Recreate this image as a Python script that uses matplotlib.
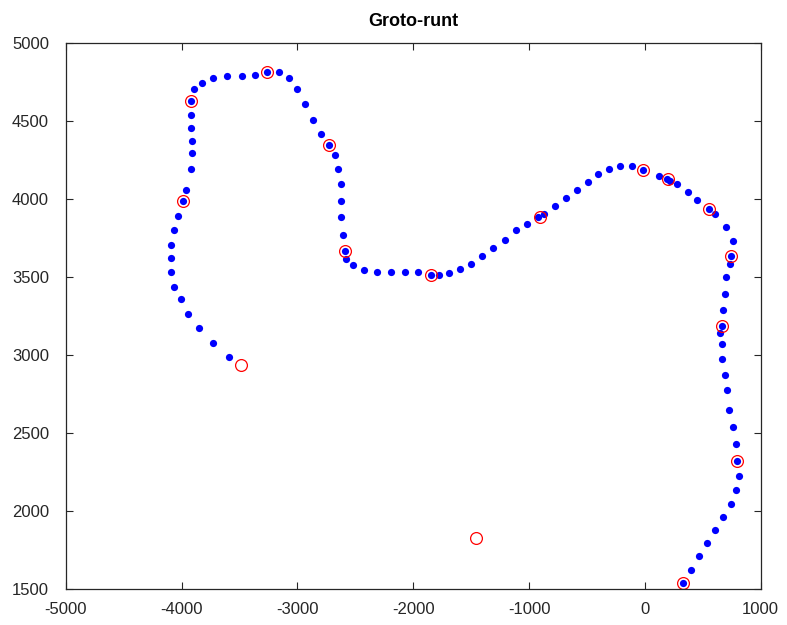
import matplotlib.pyplot as plt

plt.rcParams['font.family'] = ['Liberation Sans', 'DejaVu Sans']
plt.rcParams['axes.unicode_minus'] = False

# track points (blue)
track_x = [-3590, -3726, -3852, -3947, -4005, -4062, -4088, -4088, -4088, -4062,
           -4031, -3990, -3961, -3921, -3907, -3907, -3921, -3921, -3921, -3895,
           -3823, -3726, -3605, -3478, -3368, -3260, -3159, -3075, -3006, -2937,
           -2868, -2799, -2730, -2675, -2647, -2621, -2621, -2621, -2606, -2591,
           -2578, -2522, -2425, -2315, -2192, -2068, -1959, -1846, -1777, -1694,
           -1596, -1501, -1406, -1307, -1207, -1110, -1015, -920, -873, -778,
           -681, -586, -488, -405, -307, -212, -114, -16, 122, 188,
           217, 275, 370, 453, 551, 608, 700, 758, 746, 732,
           703, 689, 674, 662, 646, 662, 663, 689, 712, 729,
           758, 787, 798, 813, 787, 746, 677, 608, 539, 467,
           398, 329]
track_y = [2990, 3079, 3173, 3265, 3359, 3438, 3532, 3623, 3707, 3799,
           3892, 3984, 4057, 4189, 4292, 4373, 4454, 4537, 4629, 4702,
           4744, 4774, 4785, 4785, 4795, 4814, 4814, 4774, 4702, 4609,
           4507, 4415, 4343, 4281, 4189, 4095, 3984, 3882, 3769, 3666,
           3615, 3575, 3543, 3532, 3532, 3532, 3532, 3513, 3513, 3523,
           3553, 3585, 3636, 3687, 3737, 3799, 3839, 3882, 3903, 3952,
           4004, 4055, 4106, 4157, 4189, 4209, 4209, 4187, 4146, 4125,
           4114, 4095, 4044, 3993, 3933, 3901, 3818, 3728, 3636, 3583,
           3502, 3389, 3287, 3184, 3139, 3071, 2977, 2874, 2774, 2650,
           2537, 2432, 2322, 2228, 2136, 2044, 1961, 1880, 1797, 1715,
           1624, 1540]

# control points (red rings)
ctrl_x = [-3990, -3921, -3260, -2730, -2591, -1846, -905, -16, 200, 551,
          746, 662, 798, 329, -3487, -1458]
ctrl_y = [3984, 4629, 4814, 4343, 3666, 3513, 3882, 4187, 4130, 3933,
          3634, 3184, 2322, 1540, 2936, 1829]

fig = plt.figure(figsize=(7.87, 6.25), dpi=100)
ax = fig.add_axes([0.0835, 0.0571, 0.8831, 0.8746])

ax.plot(track_x, track_y, 'o', color='#0000ff', markersize=5.2, markeredgewidth=0)
ax.plot(ctrl_x, ctrl_y, 'o', markerfacecolor='none', markeredgecolor='#ff0000',
        markersize=8.5, markeredgewidth=0.9)

ax.set_xlim(-5000, 1000)
ax.set_ylim(1500, 5000)
ax.set_xticks(range(-5000, 1001, 1000))
ax.set_yticks(range(1500, 5001, 500))
ax.tick_params(direction='in', top=True, right=True, length=5, width=0.8,
               labelsize=12, colors='#262626')
ax.tick_params(axis='x', pad=9)
ax.tick_params(axis='y', pad=12)
for s in ax.spines.values():
    s.set_color('#262626')
    s.set_linewidth(0.9)

ax.set_title('Groto-runt', fontsize=13, fontweight='bold', pad=12)

fig.savefig('out.png', dpi=100)
